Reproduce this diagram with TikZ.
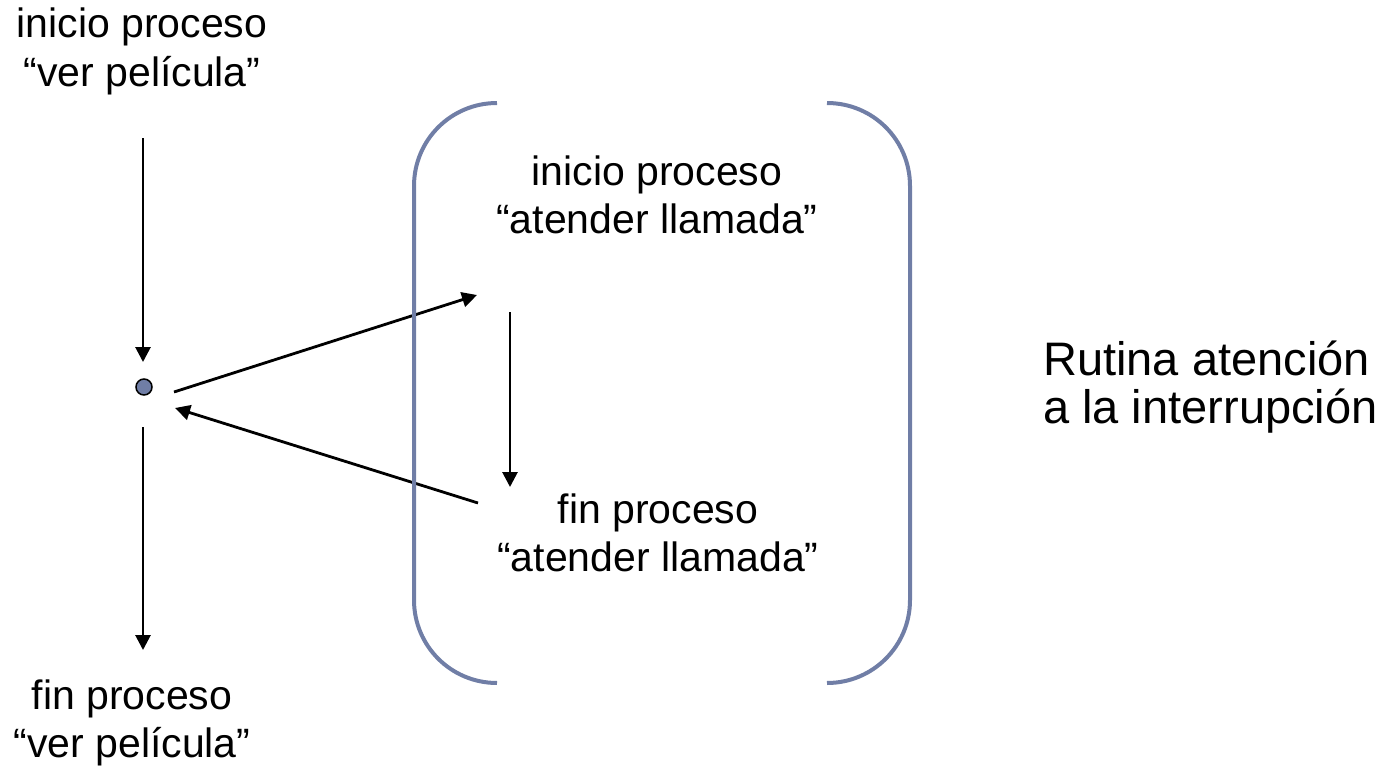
\documentclass[tikz,border=0pt]{standalone}
\usepackage{fontspec}
\setmainfont{Liberation Sans}
\usepackage{tikz}
\usetikzlibrary{arrows.meta, positioning}
\definecolor{llave}{RGB}{112,126,166}

\begin{document}
\begin{tikzpicture}[
  x=1pt, y=-1pt,
  proc/.style={align=center, inner sep=0pt, anchor=base, font=\fontsize{41}{48}\selectfont},
  nota/.style={align=left, inner sep=0pt, anchor=base west, font=\fontsize{47}{48}\selectfont},
  punto/.style={circle, draw, fill=llave, line width=1.5pt, minimum size=16pt, inner sep=0pt},
  flecha/.style={-{Triangle[length=15pt, width=15pt]}, line width=2.8pt},
  corchete/.style={llave, line width=4pt},
]
  \useasboundingbox (0,0) rectangle (1385,776);

  % Process "ver pelicula" (node base = last line)
  \node[proc] (iniPel) at (142,86) {inicio proceso\\“ver película”};
  \node[proc] (finPel) at (132,757) {fin proceso\\“ver película”};
  \node[punto] (intr) at (144,387) {};

  % Process "atender llamada"
  \node[proc] (iniLlam) at (657,233) {inicio proceso\\“atender llamada”};
  \node[proc] (finLlam) at (658,571) {fin proceso\\“atender llamada”};

  % Note on the right
  \node[nota] (rutina) at (1043,423) {Rutina atención\\a la interrupción};

  % Arrow ends
  \coordinate (a0) at (143,138);
  \coordinate (a1) at (143,362);
  \coordinate (b0) at (143,427);
  \coordinate (b1) at (143,650);
  \coordinate (c0) at (174,392);
  \coordinate (c1) at (477,295);
  \coordinate (d0) at (510,312);
  \coordinate (d1) at (510,487);
  \coordinate (e0) at (478,503);
  \coordinate (e1) at (175,408);

  \draw[flecha] (a0) -- (a1);
  \draw[flecha] (b0) -- (b1);
  \draw[flecha] (c0) -- (c1);
  \draw[flecha] (d0) -- (d1);
  \draw[flecha] (e0) -- (e1);

  % Brackets
  \draw[corchete] (497,103) .. controls (451,103) and (414,140) .. (414,186)
    -- (414,600) .. controls (414,646) and (451,683) .. (497,683);
  \draw[corchete] (827,103) .. controls (873,103) and (910,140) .. (910,186)
    -- (910,600) .. controls (910,646) and (873,683) .. (827,683);
\end{tikzpicture}
\end{document}
